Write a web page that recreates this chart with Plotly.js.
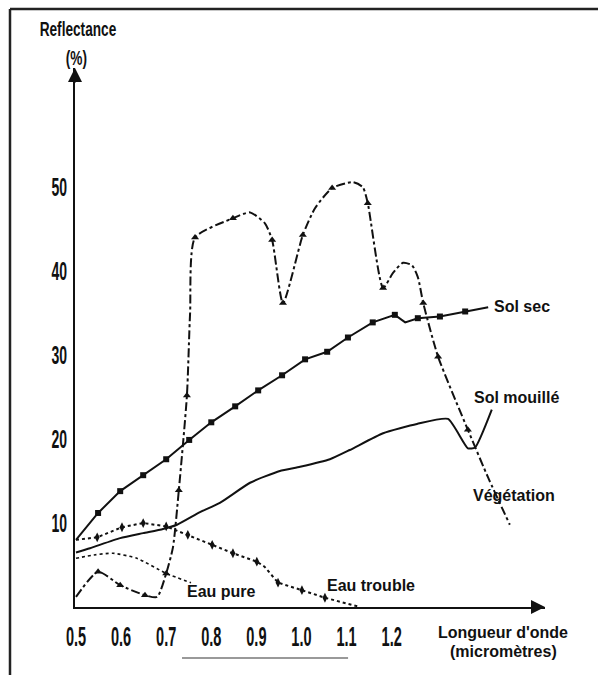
<!DOCTYPE html>
<html>
<head>
<meta charset="utf-8">
<script src="https://cdn.plot.ly/plotly-3.0.1.min.js"></script>
<style>
html,body{margin:0;padding:0;background:#fff;}
#chart{width:598px;height:675px;}
</style>
</head>
<body>
<div id="chart"></div>
<script>
// ---- Data (wavelength in micrometres, reflectance in %) ----
const solSecX = [0.50, 0.549, 0.598, 0.649, 0.70, 0.751, 0.80, 0.853, 0.904, 0.957, 1.008, 1.057, 1.103, 1.158, 1.207, 1.23, 1.258, 1.307, 1.363, 1.414];
const solSecY = [8.0, 11.2, 13.8, 15.7, 17.6, 19.9, 22.0, 23.9, 25.8, 27.6, 29.5, 30.4, 32.1, 33.9, 34.8, 33.9, 34.4, 34.6, 35.2, 35.7];
const solSecMarkX = [0.549, 0.598, 0.649, 0.70, 0.751, 0.80, 0.853, 0.904, 0.957, 1.008, 1.057, 1.103, 1.158, 1.207, 1.258, 1.307, 1.363];
const solSecMarkY = [11.2, 13.8, 15.7, 17.6, 19.9, 22.0, 23.9, 25.8, 27.6, 29.5, 30.4, 32.1, 33.9, 34.8, 34.4, 34.6, 35.2];

const solMouilleX = [0.50, 0.531, 0.598, 0.649, 0.693, 0.724, 0.775, 0.819, 0.886, 0.952, 0.997, 1.063, 1.107, 1.181, 1.256, 1.325, 1.369, 1.385, 1.422];
const solMouilleY = [6.5, 7.0, 8.2, 8.8, 9.3, 9.8, 11.3, 12.4, 14.8, 16.2, 16.7, 17.6, 18.7, 20.7, 21.8, 22.4, 18.9, 19.0, 23.5];

const vegX = [0.50, 0.549, 0.598, 0.653, 0.68, 0.70, 0.715, 0.728, 0.746, 0.753, 0.764, 0.848, 0.886, 0.919, 0.935, 0.959, 1.003, 1.030, 1.068, 1.114, 1.136, 1.147, 1.181, 1.203, 1.225, 1.245, 1.258, 1.270, 1.303, 1.369, 1.414, 1.462];
const vegY = [1.2, 4.2, 2.6, 1.4, 1.2, 4.0, 7.1, 13.9, 25.2, 35.0, 44.0, 46.3, 47.0, 45.7, 43.7, 36.2, 44.3, 47.5, 49.9, 50.6, 50.0, 48.1, 38.0, 39.8, 41.0, 40.7, 39.3, 36.2, 29.8, 21.1, 15.4, 9.8];
const vegMarkX = [0.549, 0.598, 0.653, 0.70, 0.728, 0.746, 0.764, 0.848, 0.935, 0.959, 1.003, 1.068, 1.147, 1.181, 1.270, 1.303, 1.369];
const vegMarkY = [4.2, 2.6, 1.4, 4.0, 13.9, 25.2, 44.0, 46.3, 43.7, 36.2, 44.3, 49.9, 48.1, 38.0, 36.2, 29.8, 21.1];

const eauTroubleX = [0.50, 0.547, 0.602, 0.649, 0.70, 0.748, 0.802, 0.848, 0.901, 0.918, 0.948, 1.001, 1.052, 1.13];
const eauTroubleY = [8.0, 8.3, 9.5, 10.0, 9.6, 8.6, 7.4, 6.4, 5.4, 4.8, 2.9, 2.0, 1.1, 0.0];
const eauTroubleMarkX = [0.547, 0.602, 0.649, 0.70, 0.748, 0.802, 0.848, 0.901, 0.948, 1.001, 1.052];
const eauTroubleMarkY = [8.3, 9.5, 10.0, 9.6, 8.6, 7.4, 6.4, 5.4, 2.9, 2.0, 1.1];

const eauPureX = [0.50, 0.540, 0.582, 0.635, 0.70, 0.755];
const eauPureY = [5.8, 6.2, 6.4, 5.8, 4.0, 2.9];

const xTicks = [0.5, 0.6, 0.7, 0.8, 0.9, 1.0, 1.1, 1.2];
const xTickText = ['0.5', '0.6', '0.7', '0.8', '0.9', '1.0', '1.1', '1.2'];
const yTicks = [10, 20, 30, 40, 50];

// ---- Styles ----
const INK = '#111111';
const LABEL = '"Liberation Sans", Arial, sans-serif';

const traces = [
  {x: solSecX, y: solSecY, mode: 'lines', line: {color: INK, width: 2}, hoverinfo: 'skip'},
  {x: solSecMarkX, y: solSecMarkY, mode: 'markers', marker: {symbol: 'square', size: 6, color: INK}, hoverinfo: 'skip'},
  {x: solMouilleX, y: solMouilleY, mode: 'lines', line: {color: INK, width: 2, shape: 'spline', smoothing: 0.5}, hoverinfo: 'skip'},
  {x: vegX, y: vegY, mode: 'lines', line: {color: INK, width: 2, dash: 'dashdot', shape: 'spline', smoothing: 0.6}, hoverinfo: 'skip'},
  {x: vegMarkX, y: vegMarkY, mode: 'markers', marker: {symbol: 'triangle-up', size: 7, color: INK}, hoverinfo: 'skip'},
  {x: eauTroubleX, y: eauTroubleY, mode: 'lines', line: {color: INK, width: 2, dash: 'dot'}, hoverinfo: 'skip'},
  {x: eauTroubleMarkX, y: eauTroubleMarkY, mode: 'markers', marker: {symbol: 'diamond-tall', size: 7, color: INK}, hoverinfo: 'skip'},
  {x: eauPureX, y: eauPureY, mode: 'lines', line: {color: INK, width: 1.6, dash: 'dot', shape: 'spline', smoothing: 0.6}, hoverinfo: 'skip'}
];

const annFont = {family: LABEL, size: 16, color: INK};
const annotations = [
  {xref: 'x', yref: 'y', x: 1.422, y: 35.8, text: '<b>Sol sec</b>', showarrow: false, xanchor: 'left', yanchor: 'middle', font: annFont},
  {xref: 'x', yref: 'y', x: 1.378, y: 24.9, text: '<b>Sol mouillé</b>', showarrow: false, xanchor: 'left', yanchor: 'middle', font: annFont},
  {xref: 'x', yref: 'y', x: 1.376, y: 13.3, text: '<b>Végétation</b>', showarrow: false, xanchor: 'left', yanchor: 'middle', font: annFont},
  {xref: 'x', yref: 'y', x: 0.742, y: 1.9, text: '<b>Eau pure</b>', showarrow: false, xanchor: 'left', yanchor: 'middle', font: annFont},
  {xref: 'x', yref: 'y', x: 1.052, y: 2.6, text: '<b>Eau trouble</b>', showarrow: false, xanchor: 'left', yanchor: 'middle', font: annFont},
  // axis titles
  {xref: 'paper', yref: 'paper', x: 0.0064, y: 1.074, text: '<b>Reflectance</b>', showarrow: false, xanchor: 'center', yanchor: 'middle', font: {family: LABEL, size: 21, color: INK}},
  {xref: 'paper', yref: 'paper', x: 0.004, y: 1.02, text: '<b>(%)</b>', showarrow: false, xanchor: 'center', yanchor: 'middle', font: {family: LABEL, size: 21, color: INK}},
  {xref: 'paper', yref: 'paper', x: 0.911, y: -0.048, text: "<b>Longueur d'onde</b>", showarrow: false, xanchor: 'center', yanchor: 'middle', font: {family: LABEL, size: 16, color: INK}},
  {xref: 'paper', yref: 'paper', x: 0.911, y: -0.083, text: '<b>(micromètres)</b>', showarrow: false, xanchor: 'center', yanchor: 'middle', font: {family: LABEL, size: 16, color: INK}},
  // axis arrowheads
  {xref: 'paper', yref: 'paper', x: 1.0, y: 0, ax: -14, ay: 0, text: '', showarrow: true, arrowhead: 2, arrowsize: 1.4, arrowwidth: 2, arrowcolor: INK},
  {xref: 'paper', yref: 'paper', x: 0, y: 1.0, ax: 0, ay: 16, text: '', showarrow: true, arrowhead: 2, arrowsize: 1.4, arrowwidth: 2, arrowcolor: INK}
];

const shapes = [
  // outer frame (top and left edges)
  {type: 'line', xref: 'paper', yref: 'paper', x0: -0.1383, x1: 1.13, y0: 1.1095, y1: 1.1095, line: {color: '#222', width: 2.5}},
  {type: 'line', xref: 'paper', yref: 'paper', x0: -0.1383, x1: -0.1383, y0: 1.1095, y1: -0.14, line: {color: '#222', width: 2.5}},
  // grey rule under the x labels
  {type: 'line', xref: 'paper', yref: 'paper', x0: 0.2277, x1: 0.581, y0: -0.0946, y1: -0.0946, line: {color: '#777', width: 1.5}}
];

const layout = {
  width: 598, height: 675,
  margin: {l: 75, r: 53, t: 68, b: 68, pad: 0},
  paper_bgcolor: '#ffffff', plot_bgcolor: '#ffffff',
  showlegend: false,
  xaxis: {
    range: [0.4978, 1.540], showgrid: false, zeroline: false,
    showline: true, linecolor: INK, linewidth: 2,
    tickmode: 'array', tickvals: xTicks, ticktext: xTickText, ticks: '',
    ticklabelstandoff: 3,
    tickfont: {family: LABEL, size: 28, color: INK, weight: 'bold'}
  },
  yaxis: {
    range: [0, 64.2], showgrid: false, zeroline: false,
    showline: true, linecolor: INK, linewidth: 2,
    tickmode: 'array', tickvals: yTicks, ticks: '',
    ticklabelstandoff: 1,
    tickfont: {family: LABEL, size: 25, color: INK, weight: 'bold'}
  },
  annotations: annotations,
  shapes: shapes
};

// Narrow the condensed-looking texts horizontally around their anchor point.
function squeeze(selector, k) {
  document.querySelectorAll(selector).forEach(function (t) {
    const x = parseFloat(t.getAttribute('x')) || 0;
    const tr = t.getAttribute('transform') || '';
    t.setAttribute('transform', tr + ' translate(' + x + ',0) scale(' + k + ',1) translate(' + (-x) + ',0)');
  });
}

Plotly.newPlot('chart', traces, layout, {staticPlot: true, displayModeBar: false}).then(function () {
  squeeze('.xtick text', 0.52);
  squeeze('.ytick text', 0.56);
  squeeze('g.annotation[data-index="5"] text, g.annotation[data-index="6"] text', 0.65);
});
</script>
</body>
</html>
